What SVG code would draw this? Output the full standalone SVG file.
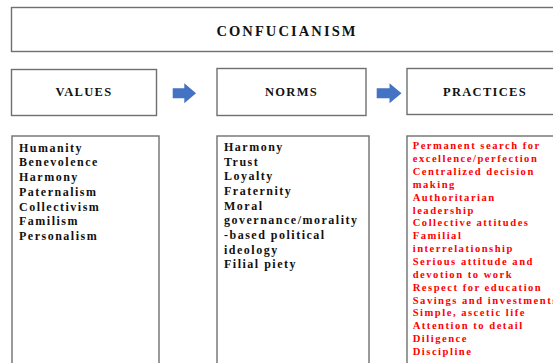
<svg xmlns="http://www.w3.org/2000/svg" width="553" height="363" viewBox="0 0 553 363">
  <style>
    .box { fill: #ffffff; stroke: #6f6f6f; stroke-width: 1.4; }
    .head { font-family: "Liberation Serif", "Times New Roman", serif; font-weight: bold; fill: #111111; text-anchor: middle; }
    .list { font-family: "Liberation Serif", "Times New Roman", serif; font-weight: bold; font-size: 12px; letter-spacing: 1.5px; fill: #111111; }
    .red { font-family: "Liberation Serif", "Times New Roman", serif; font-weight: bold; font-size: 10.6px; letter-spacing: 1.5px; fill: #ff0000; }
    .arrow { fill: #4472c4; }
  </style>
  <rect width="553" height="363" fill="#ffffff"/>

  <!-- Title -->
  <g id="confucianism">
    <rect class="box" x="11.5" y="7.5" width="552" height="44"/>
    <text class="head" x="287" y="36" font-size="14.5" letter-spacing="2.1">CONFUCIANISM</text>
  </g>

  <!-- Column headers -->
  <g id="values">
    <rect class="box" x="11.5" y="69.5" width="145" height="46"/>
    <text class="head" x="84" y="95.7" font-size="12.5" letter-spacing="1.3">VALUES</text>
  </g>
  <g id="norms">
    <rect class="box" x="217" y="68.5" width="149" height="47"/>
    <text class="head" x="291.5" y="95.5" font-size="12.5" letter-spacing="1.3">NORMS</text>
  </g>
  <g id="practices">
    <rect class="box" x="407" y="68.5" width="156" height="46"/>
    <text class="head" x="485" y="95.5" font-size="12.5" letter-spacing="1.3">PRACTICES</text>
  </g>

  <!-- Block arrows between headers -->
  <g id="connectors">
    <path class="arrow" d="M172.7,88.3 H184.3 V83.3 L196,93.3 L184.3,103.3 V98.3 H172.7 Z"/>
    <path class="arrow" d="M376.7,88.3 H389.5 V83.3 L401.5,93.3 L389.5,103.3 V98.3 H376.7 Z"/>
  </g>

  <!-- Values list -->
  <g id="values-list">
    <rect class="box" x="12" y="136" width="147" height="240"/>
    <text class="list" x="19">
      <tspan x="19" y="151.7">Humanity</tspan>
      <tspan x="19" y="166.4">Benevolence</tspan>
      <tspan x="19" y="181.1">Harmony</tspan>
      <tspan x="19" y="195.8">Paternalism</tspan>
      <tspan x="19" y="210.5">Collectivism</tspan>
      <tspan x="19" y="225.2">Familism</tspan>
      <tspan x="19" y="239.9">Personalism</tspan>
    </text>
  </g>

  <!-- Norms list -->
  <g id="norms-list">
    <rect class="box" x="217" y="136" width="152" height="240"/>
    <text class="list" x="224">
      <tspan x="224" y="150.8">Harmony</tspan>
      <tspan x="224" y="165.5">Trust</tspan>
      <tspan x="224" y="180.2">Loyalty</tspan>
      <tspan x="224" y="194.9">Fraternity</tspan>
      <tspan x="224" y="209.6">Moral</tspan>
      <tspan x="224" y="224.3">governance/morality</tspan>
      <tspan x="224" y="239">-based political</tspan>
      <tspan x="224" y="253.7">ideology</tspan>
      <tspan x="224" y="268.4">Filial piety</tspan>
    </text>
  </g>

  <!-- Practices list -->
  <g id="practices-list">
    <rect class="box" x="407" y="136" width="160" height="240"/>
    <text class="red" x="412.7">
      <tspan x="412.7" y="149.3">Permanent search for</tspan>
      <tspan x="412.7" y="162.15">excellence/perfection</tspan>
      <tspan x="412.7" y="175">Centralized decision</tspan>
      <tspan x="412.7" y="187.85">making</tspan>
      <tspan x="412.7" y="200.7">Authoritarian</tspan>
      <tspan x="412.7" y="213.55">leadership</tspan>
      <tspan x="412.7" y="226.4">Collective attitudes</tspan>
      <tspan x="412.7" y="239.25">Familial</tspan>
      <tspan x="412.7" y="252.1">interrelationship</tspan>
      <tspan x="412.7" y="264.95">Serious attitude and</tspan>
      <tspan x="412.7" y="277.8">devotion to work</tspan>
      <tspan x="412.7" y="290.65">Respect for education</tspan>
      <tspan x="412.7" y="303.5">Savings and investments</tspan>
      <tspan x="412.7" y="316.35">Simple, ascetic life</tspan>
      <tspan x="412.7" y="329.2">Attention to detail</tspan>
      <tspan x="412.7" y="342.05">Diligence</tspan>
      <tspan x="412.7" y="354.9">Discipline</tspan>
    </text>
  </g>
</svg>
